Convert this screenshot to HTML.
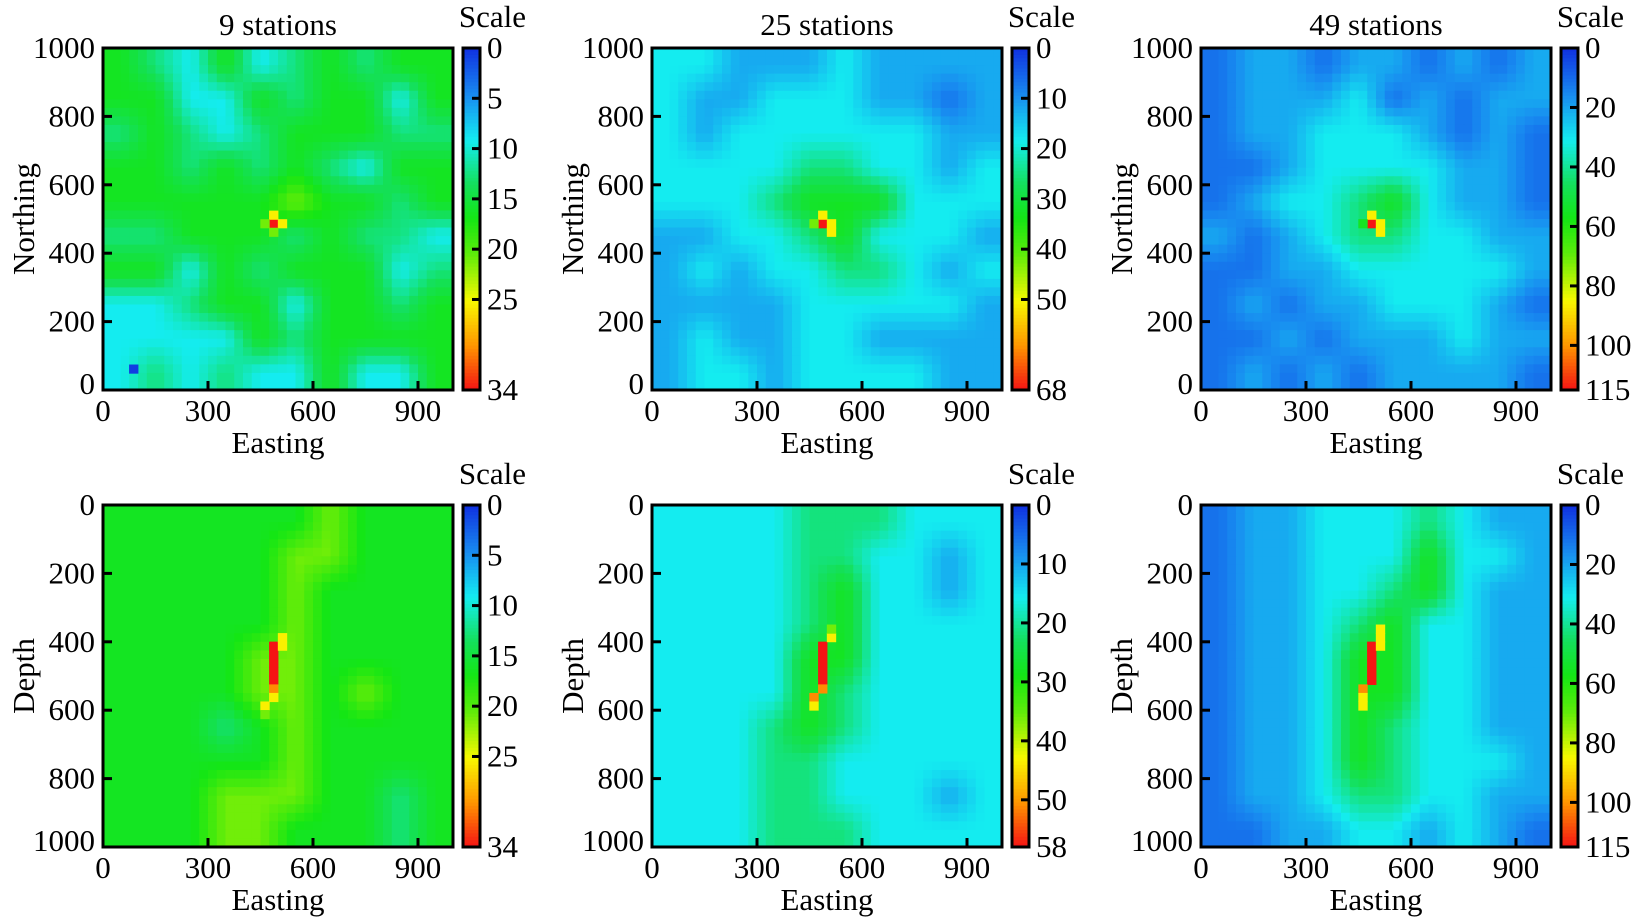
<!DOCTYPE html>
<html><head><meta charset="utf-8"><style>
body{margin:0;background:#fff;}
svg{display:block;}
text{font-family:"Liberation Serif","DejaVu Serif",serif;}
</style></head><body>
<svg id="fig" width="1636" height="923" viewBox="0 0 1636 923" xmlns="http://www.w3.org/2000/svg"></svg>
<script>
// ---- data (digit grids 0-9, rows listed top-to-bottom as drawn) ----
const panelTitles = ["9 stations","25 stations","49 stations","","",""];
const yLabels = ["Northing","Northing","Northing","Depth","Depth","Depth"];
const scaleMax = [34,68,115,34,58,115];
const scaleTicks0 = [0,5,10,15,20,25,34];
const scaleTicks1 = [0,10,20,30,40,50,68];
const scaleTicks2 = [0,20,40,60,80,100,115];
const scaleTicks3 = [0,5,10,15,20,25,34];
const scaleTicks4 = [0,10,20,30,40,50,58];
const scaleTicks5 = [0,20,40,60,80,100,115];
const xTicks = [0,300,600,900];
const yTicksTop = [0,200,400,600,800,1000];
const yTicksBottom = [0,200,400,600,800,1000];
const grid0 = ["5435345455","5533545535","4543455544","5545454355","5555565545","4455545443","5535455534","3345535545","3333545555","3434335335"];
const grid1 = ["3322232222","3223332212","3233333322","3333443323","3334555333","2233453332","2323344323","2222333332","2322332222","2332333322"];
const grid2 = ["1221221212","1222312122","1223332121","1123333221","1233453221","2123443322","1122333332","1212233321","1121222322","1212122221"];
const grid3 = ["5555556555","5555566555","5555565555","5555565555","5555665555","5555665655","5554565555","5555565555","5556665545","5556655545"];
const grid4 = ["3333444333","3333443323","3333453323","3333453333","3333553333","3333543333","3334543333","3334433333","3334433323","3334443333"];
const grid5 = ["1223334322","1223335332","1223345322","1223453322","1223553322","1223553322","1223543322","1223543332","1223443322","1122332321"];
// hot cells: [easting, northing-or-depth, digit]
const hot0 = [[487,487,9],[487,512,7],[512,487,7],[462,487,6],[487,462,6],[87,62,0]];
const hot1 = [[487,487,9],[487,512,7],[512,487,7],[512,462,7],[462,487,6]];
const hot2 = [[487,487,9],[487,512,7],[512,487,7],[512,462,7],[462,487,5]];
const hot3 = [[487,412,9],[487,437,9],[487,462,9],[487,487,9],[487,512,9],[487,537,8],[487,562,7],[512,387,7],[512,412,7],[462,587,7],[462,612,6]];
const hot4 = [[487,412,9],[487,437,9],[487,462,9],[487,487,9],[487,512,9],[487,537,8],[462,562,8],[462,587,7],[512,387,7],[512,362,6]];
const hot5 = [[487,412,9],[487,437,9],[487,462,9],[487,487,9],[487,512,9],[462,537,8],[462,562,7],[462,587,7],[512,362,7],[512,387,7],[512,412,7]];

const grids=[grid0,grid1,grid2,grid3,grid4,grid5];
const hots=[hot0,hot1,hot2,hot3,hot4,hot5];
const ticksAll=[scaleTicks0,scaleTicks1,scaleTicks2,scaleTicks3,scaleTicks4,scaleTicks5];
const digitT=[0.02,0.1,0.18,0.27,0.37,0.48,0.62,0.75,0.88,1.0];
const stops=[[0,[16,48,224]],[0.14,[24,140,240]],[0.27,[20,236,240]],[0.4,[20,224,90]],[0.5,[20,230,20]],[0.6,[90,236,10]],[0.74,[248,248,0]],[0.87,[255,150,0]],[1,[245,20,20]]];
function cmap(t){t=Math.max(0,Math.min(1,t));for(let i=1;i<stops.length;i++){if(t<=stops[i][0]){const a=stops[i-1],b=stops[i];const f=(t-a[0])/(b[0]-a[0]);const c=a[1].map((v,k)=>Math.round(v+(b[1][k]-v)*f));return `rgb(${c[0]},${c[1]},${c[2]})`;}}return "rgb(245,20,20)";}
const NS="http://www.w3.org/2000/svg";
const svg=document.getElementById('fig');
const FF='Liberation Serif, DejaVu Serif, serif';
function el(tag,attrs,parent){const e=document.createElementNS(NS,tag);for(const k in attrs)e.setAttribute(k,attrs[k]);if(tag==='text')e.setAttribute('font-family',FF);(parent||svg).appendChild(e);return e;}
const X0=[103,652,1201], Y0=[48,505], W=350, H=342, FS=31;
for(let p=0;p<6;p++){
  const col=p%3,row=Math.floor(p/3);
  const x0=X0[col],y0=Y0[row];
  const g=el('g',{});
  
  
  const sx=v=>x0+v/1000*W;
  const sy=row===0?(v=>y0+H-v/1000*H):(v=>y0+v/1000*H);
  const grid=grids[p];
  const cw=W/40,ch=H/40;
  for(let i=0;i<40;i++){for(let j=0;j<40;j++){
    let gx=(j+0.5)/4-0.5, gy=(i+0.5)/4-0.5;
    gx=Math.max(0,Math.min(9,gx)); gy=Math.max(0,Math.min(9,gy));
    const ix=Math.min(8,Math.floor(gx)),iy=Math.min(8,Math.floor(gy));
    const fx=gx-ix,fy=gy-iy;
    const v=k=>digitT[+k];
    const a=v(grid[iy][ix]),b=v(grid[iy][ix+1]),c=v(grid[iy+1][ix]),d=v(grid[iy+1][ix+1]);
    const t=a*(1-fx)*(1-fy)+b*fx*(1-fy)+c*(1-fx)*fy+d*fx*fy;
    const r=el('rect',{x:(x0+j*cw).toFixed(2),y:(y0+i*ch).toFixed(2),width:(cw+0.6).toFixed(2),height:(ch+0.6).toFixed(2),fill:cmap(t)},g);
    
    
  }}
  hots[p].forEach(h=>{
    const cx=sx(h[0]),cy=sy(h[1]);
    const r=el('rect',{x:(cx-cw/2).toFixed(2),y:(cy-ch/2).toFixed(2),width:(cw+0.6).toFixed(2),height:(ch+0.6).toFixed(2),fill:cmap(digitT[h[2]])},g);
    
    
  });
  el('rect',{x:x0,y:y0,width:W,height:H,fill:'none',stroke:'#000','stroke-width':3},g);
  xTicks.forEach(v=>{
    if(v>0) el('line',{x1:sx(v),x2:sx(v),y1:y0+H,y2:y0+H-9,stroke:'#000','stroke-width':3},g);
    const t=el('text',{x:sx(v),y:y0+H+31,'font-size':FS,'text-anchor':'middle'},g);t.textContent=v;
    
    
  });
  const yt=row===0?yTicksTop:yTicksBottom;
  yt.forEach(v=>{
    if(v>0&&v<1000) el('line',{x1:x0,x2:x0+9,y1:sy(v),y2:sy(v),stroke:'#000','stroke-width':3},g);
    let ty=sy(v)+10; if(row===0&&v===0) ty=y0+H+4; if(row===1&&v===1000) ty=y0+H+4;
    const t=el('text',{x:x0-8,y:ty,'font-size':FS,'text-anchor':'end'},g);t.textContent=v;
    
    
  });
  const xl=el('text',{x:x0+W/2,y:y0+H+63,'font-size':FS,'text-anchor':'middle'},g);xl.textContent='Easting';
  
  
  const yl=el('text',{x:0,y:0,'font-size':FS,'text-anchor':'middle',transform:`translate(${x0-69},${y0+H/2}) rotate(-90)`},g);yl.textContent=yLabels[p];
  
  
  if(panelTitles[p]){const tt=el('text',{x:x0+W/2,y:y0-13,'font-size':FS,'text-anchor':'middle'},g);tt.textContent=panelTitles[p];
    
    }
  const cx0=x0+W+10,cbw=17;
  const cb=el('g',{},g);
  
  
  for(let k=0;k<100;k++){el('rect',{x:cx0,y:(y0+k*H/100).toFixed(2),width:cbw,height:(H/100+0.6).toFixed(2),fill:cmap((k+0.5)/100)},cb);}
  el('rect',{x:cx0,y:y0,width:cbw,height:H,fill:'none',stroke:'#000','stroke-width':3},cb);
  const mx=scaleMax[p];
  ticksAll[p].forEach(v=>{
    const yy=y0+v/mx*H;
    if(v>0&&v<mx) el('line',{x1:cx0+cbw,x2:cx0+cbw-8,y1:yy,y2:yy,stroke:'#000','stroke-width':3},cb);
    const t=el('text',{x:cx0+cbw+7,y:yy+10,'font-size':FS},cb);t.textContent=v;
    
    
  });
  const st=el('text',{x:cx0+cbw/2+21,y:y0-21,'font-size':FS,'text-anchor':'middle'},cb);st.textContent='Scale';
  
  
}
</script>
</body></html>
